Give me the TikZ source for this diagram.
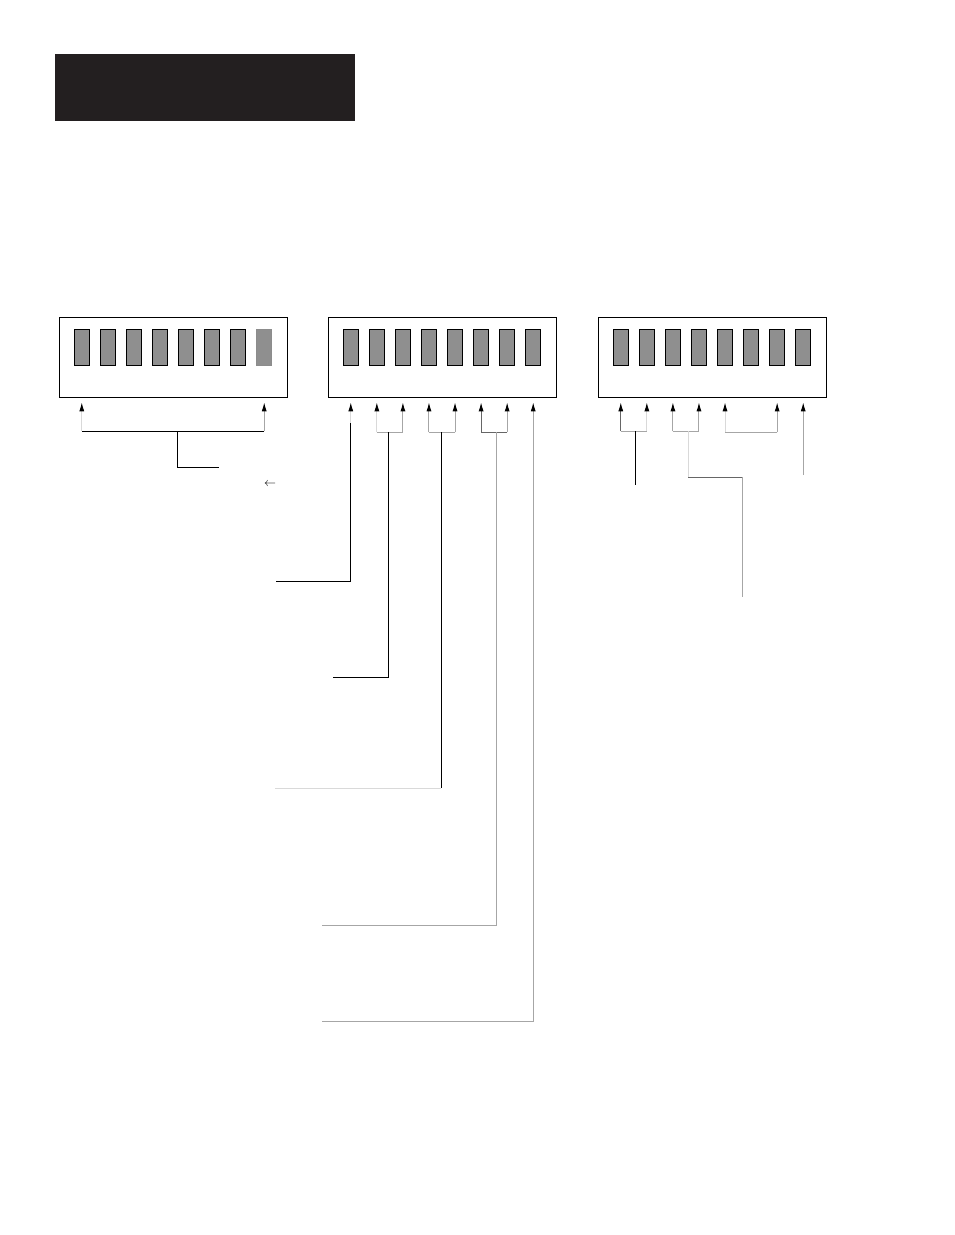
\documentclass[tikz,border=0pt]{standalone}
\usepackage{amsmath}
\usepackage{amssymb}
\usetikzlibrary{positioning,arrows.meta}

\definecolor{hdr}{HTML}{231F20}
\colorlet{lite}{black!15}
\colorlet{mid}{black!35}
\colorlet{dark}{black!60}

\begin{document}
\begin{tikzpicture}[x=1pt,y=-1pt,line width=1pt,node distance=11.06pt,
    sw/.style={rectangle,draw,fill=black!44,line width=1.2pt,minimum width=15pt,minimum height=36pt,inner sep=0pt,outer sep=0pt},
    bank/.style={rectangle,draw,minimum width=228pt,minimum height=80pt,inner sep=0pt},
    tip/.style={-{Latex[length=9pt,width=5pt,color=black]},shorten >=4.5pt}]
    \useasboundingbox (0,0) rectangle (954,1235);
    \node[fill=hdr,minimum width=300pt,minimum height=67pt,inner sep=0pt] (hdr) at (205,87.5) {};

    % first bank
    \node[bank] (b1) at (173.3,357.3) {};
    \node[sw] (s11) at (81.8,347.3) {};
    \node[sw,right=of s11] (s12) {};
    \node[sw,right=of s12] (s13) {};
    \node[sw,right=of s13] (s14) {};
    \node[sw,right=of s14] (s15) {};
    \node[sw,right=of s15] (s16) {};
    \node[sw,right=of s16] (s17) {};
    \node[sw,draw=black!45,right=of s17] (s18) {};

    % second bank
    \node[bank] (b2) at (442.5,357.3) {};
    \node[sw] (s21) at (350.8,347.3) {};
    \node[sw,right=of s21] (s22) {};
    \node[sw,right=of s22] (s23) {};
    \node[sw,right=of s23] (s24) {};
    \node[sw,right=of s24] (s25) {};
    \node[sw,right=of s25] (s26) {};
    \node[sw,right=of s26] (s27) {};
    \node[sw,right=of s27] (s28) {};

    % third bank
    \node[bank] (b3) at (712.5,357.3) {};
    \node[sw] (s31) at (620.8,347.3) {};
    \node[sw,right=of s31] (s32) {};
    \node[sw,right=of s32] (s33) {};
    \node[sw,right=of s33] (s34) {};
    \node[sw,right=of s34] (s35) {};
    \node[sw,right=of s35] (s36) {};
    \node[sw,right=of s36] (s37) {};
    \node[sw,right=of s37] (s38) {};

    \coordinate (j11) at (177.3,431.3);
    \coordinate (t11) at (219.3,467);
    \coordinate (j21) at (388.3,432.3);
    \coordinate (j22) at (441.3,432.3);
    \coordinate (j23) at (496.3,432.3);
    \coordinate (k21) at (351,423);
    \coordinate (t21) at (276,581.3);
    \coordinate (t22) at (333,677.3);
    \coordinate (t23) at (275,788.3);
    \coordinate (t24) at (322.3,925);
    \coordinate (t25) at (322.3,1021);
    \coordinate (j31) at (635.3,431.3);
    \coordinate (j32) at (688,431.3);
    \coordinate (j33) at (750,432.3);
    \coordinate (t31) at (635.3,485);
    \coordinate (k32) at (742,477.3);
    \coordinate (t32) at (742,597.3);
    \coordinate (t33) at (801.3,475);

    \draw[lite,tip] (s11 |- j11) -- (s11 |- b1.south);
    \draw[mid,tip] (s18 |- j11) -- (s18 |- b1.south);
    \draw (s11 |- j11) -- (s18 |- j11);
    \draw (j11) |- (t11);
    \node[inner sep=0pt] (arr) at (270,484) {\large$\leftarrow$};

    \draw[lite,tip] (s21 |- k21) -- (s21 |- b2.south);
    \draw (t21) -| (s21 |- k21);
    \draw[lite,tip] (s22 |- j21) -- (s22 |- b2.south);
    \draw[mid,tip] (s23 |- j21) -- (s23 |- b2.south);
    \draw[mid] (s22 |- j21) -- (s23 |- j21);
    \draw (j21) |- (t22);
    \draw[mid,tip] (s24 |- j22) -- (s24 |- b2.south);
    \draw[mid,tip] (s25 |- j22) -- (s25 |- b2.south);
    \draw[mid] (s24 |- j22) -- (s25 |- j22);
    \draw (j22) -- (j22 |- t23);
    \draw[lite] (j22 |- t23) -- (t23);
    \draw[dark,tip] (s26 |- j23) -- (s26 |- b2.south);
    \draw[mid,tip] (s27 |- j23) -- (s27 |- b2.south);
    \draw[dark] (s26 |- j23) -- (s27 |- j23);
    \draw[mid] (j23) |- (t24);
    \draw[mid,tip] (t25) -| (s28 |- b2.south);

    \draw[dark,tip] (s31 |- j31) -- (s31 |- b3.south);
    \draw[lite,tip] (s32 |- j31) -- (s32 |- b3.south);
    \draw[mid] (s31 |- j31) -- (s32 |- j31);
    \draw (j31) -- (t31);
    \draw[mid,tip] (s33 |- j32) -- (s33 |- b3.south);
    \draw[mid,tip] (s34 |- j32) -- (s34 |- b3.south);
    \draw[mid] (s33 |- j32) -- (s34 |- j32);
    \draw[lite] (j32) -- (j32 |- k32);
    \draw[dark] (j32 |- k32) -- (k32);
    \draw[mid] (k32) -- (t32);
    \draw[lite,tip] (s35 |- j33) -- (s35 |- b3.south);
    \draw[mid,tip] (s37 |- j33) -- (s37 |- b3.south);
    \draw[mid] (s35 |- j33) -- (s37 |- j33);
    \draw[mid,tip] (s38 |- t33) -- (s38 |- b3.south);
\end{tikzpicture}
\end{document}
